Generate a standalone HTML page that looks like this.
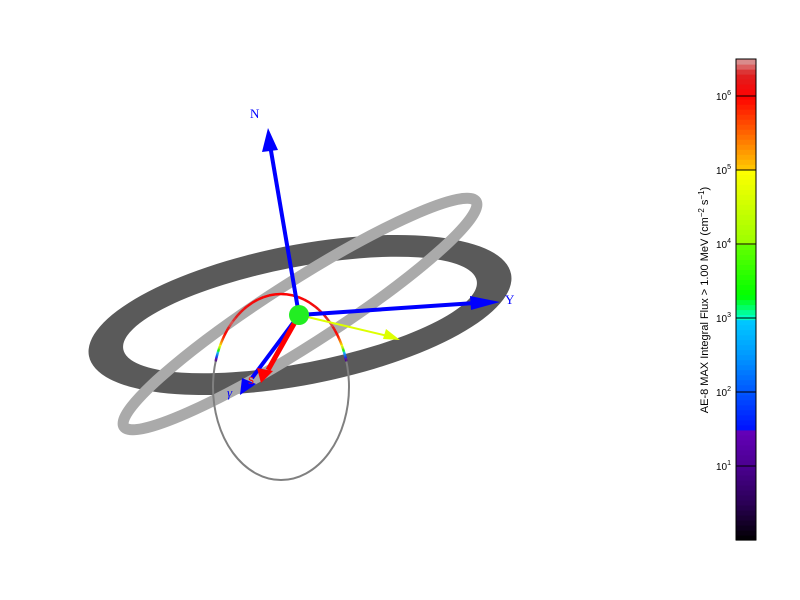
<!DOCTYPE html>
<html><head><meta charset="utf-8"><style>
html,body{margin:0;padding:0;background:#fff;}
svg{display:block;font-family:"Liberation Sans",sans-serif;}
</style></head><body>
<svg id="chart" width="800" height="600" viewBox="0 0 800 600">
<g id="scene">
  <path fill="#5a5a5a" fill-rule="evenodd" transform="translate(300,315) rotate(-11)"
    d="M-215,0 A215,70 0 1,0 215,0 A215,70 0 1,0 -215,0 Z M-180,0 A180,48 0 1,0 180,0 A180,48 0 1,0 -180,0 Z"/>
  <ellipse cx="0" cy="0" rx="209" ry="32" fill="none" stroke="#aaaaaa" stroke-width="11" transform="translate(300,314) rotate(-32.6)"/>
  <ellipse cx="281" cy="387" rx="68" ry="93" fill="none" stroke="#808080" stroke-width="2"/>
  <g id="fluxArc"></g>
  <line x1="299" y1="315" x2="392" y2="337" stroke="#ddff00" stroke-width="2"/>
  <polygon points="400,340 383,339 386,329" fill="#ddff00"/>
  <line x1="299" y1="315" x2="270" y2="145" stroke="#0000ff" stroke-width="4"/>
  <polygon points="268,128 262,152 278,150" fill="#0000ff"/>
  <text x="250" y="118" font-family="Liberation Serif" font-size="13" fill="#0000ff">N</text>
  <line x1="299" y1="315" x2="475" y2="303" stroke="#0000ff" stroke-width="4"/>
  <polygon points="500,302 470,296 471,310" fill="#0000ff"/>
  <text x="505" y="304" font-family="Liberation Serif" font-size="13" fill="#0000ff">Y</text>
  <line x1="299" y1="315" x2="252" y2="378" stroke="#0000ff" stroke-width="4"/>
  <polygon points="240,395 242,378 256,384" fill="#0000ff"/>
  <text x="227" y="397" font-family="Liberation Serif" font-style="italic" font-size="13" fill="#0000ff">γ</text>
  <line x1="299" y1="315" x2="268" y2="370" stroke="#ff0000" stroke-width="5"/>
  <polygon points="261,383 257,368 273,371" fill="#ff0000"/>
  <text x="248" y="384" font-family="Liberation Serif" font-size="11" fill="#ff0000">S</text>
  <circle cx="299" cy="315" r="10" fill="#22ee22"/>
</g>
<g id="cbar"></g>
<text transform="translate(708,300) rotate(-90)" text-anchor="middle" font-size="11" fill="#000">AE-8 MAX Integral Flux &gt; 1.00 MeV (cm<tspan font-size="8" dy="-4">−2</tspan><tspan dy="4"> s</tspan><tspan font-size="8" dy="-4">−1</tspan><tspan dy="4">)</tspan></text>
</svg>
<script>
var cbExponents = [1,2,3,4,5,6];
var cbStopsLog = [0,0.5,1,1.5,1.5,2,2.5,3,3,3.3,4,4,5,5,5.5,6,6.3,6.5];
var cbStopsColor = ["#000000","#2a0055","#4a0090","#6600bb","#0011ff","#0055ff","#0099ff","#00ccff","#00ffcc","#00ff00","#66ff00","#99ff00","#ffff00","#ffcc00","#ff6600","#ff0000","#dd2222","#d8a0a0"];
var orbitAngles = [-74,-72,-70,-68,-66,-64,-58,-48,-30,0,30,48,58,64,66,68,70,72,74];
var orbitFlux   = [0.8,1.5,2.2,3.0,3.8,4.8,5.8,6.4,6.1,6.0,6.1,6.4,5.8,4.8,3.8,3.0,2.2,1.5,0.8];
var NS="http://www.w3.org/2000/svg";
var cbTop=59, cbBot=540, cbMin=0, cbMax=6.5, cbX=736, cbW=20;
function yOf(v){return cbBot-(v-cbMin)/(cbMax-cbMin)*(cbBot-cbTop);}
function hexPart(c,i){return parseInt(c.substr(1+2*i,2),16);}
function mix(c1,c2,t){
  var r=[];
  for(var i=0;i<3;i++){r.push(Math.round(hexPart(c1,i)*(1-t)+hexPart(c2,i)*t));}
  return "rgb("+r.join(",")+")";
}
function colorAt(v){
  for(var i=0;i<cbStopsLog.length-1;i++){
    if(v>=cbStopsLog[i]&&v<=cbStopsLog[i+1]){
      var a=cbStopsLog[i],b=cbStopsLog[i+1],t=b>a?(v-a)/(b-a):0;
      return mix(cbStopsColor[i],cbStopsColor[i+1],t);
    }
  }
  return v<cbStopsLog[0]?cbStopsColor[0]:cbStopsColor[cbStopsColor.length-1];
}
var cb=document.getElementById("cbar");
var steps=96;
for(var k=0;k<steps;k++){
  var v0=cbMin+(cbMax-cbMin)*k/steps, v1=cbMin+(cbMax-cbMin)*(k+1)/steps;
  var r=document.createElementNS(NS,"rect");
  r.setAttribute("x",cbX);r.setAttribute("y",yOf(v1));r.setAttribute("width",cbW);
  r.setAttribute("height",yOf(v0)-yOf(v1)+0.6);r.setAttribute("fill",colorAt((v0+v1)/2));
  
  
  cb.appendChild(r);
}
var fr=document.createElementNS(NS,"rect");
fr.setAttribute("x",cbX);fr.setAttribute("y",cbTop);fr.setAttribute("width",cbW);fr.setAttribute("height",cbBot-cbTop);
fr.setAttribute("fill","none");fr.setAttribute("stroke","#000");


cb.appendChild(fr);
for(var q=0;q<cbExponents.length;q++){
  var e=cbExponents[q];
  var y=yOf(e);
  var l=document.createElementNS(NS,"line");
  l.setAttribute("x1",cbX);l.setAttribute("x2",cbX+cbW);l.setAttribute("y1",y);l.setAttribute("y2",y);
  l.setAttribute("stroke","#000");
  
  
  cb.appendChild(l);
  var t=document.createElementNS(NS,"text");
  t.setAttribute("x",cbX-5);t.setAttribute("y",y+4);t.setAttribute("text-anchor","end");
  t.setAttribute("font-size","10");
  t.appendChild(document.createTextNode("10"));
  var sp=document.createElementNS(NS,"tspan");
  sp.setAttribute("font-size","7");sp.setAttribute("dy","-5");
  sp.appendChild(document.createTextNode(String(e)));
  t.appendChild(sp);
  
  
  cb.appendChild(t);
}
var fa=document.getElementById("fluxArc");
var ocx=281,ocy=387,orx=68,ory=93;
function pt(a){var rr=a*Math.PI/180;return [ocx+orx*Math.sin(rr),ocy-ory*Math.cos(rr)];}
for(var i=0;i<orbitAngles.length-1;i++){
  var n=6;
  for(var j=0;j<n;j++){
    var a0=orbitAngles[i]+(orbitAngles[i+1]-orbitAngles[i])*j/n;
    var a1=orbitAngles[i]+(orbitAngles[i+1]-orbitAngles[i])*(j+1)/n;
    var f=orbitFlux[i]+(orbitFlux[i+1]-orbitFlux[i])*(j+0.5)/n;
    var p0=pt(a0),p1=pt(a1);
    var s=document.createElementNS(NS,"line");
    s.setAttribute("x1",p0[0]);s.setAttribute("y1",p0[1]);s.setAttribute("x2",p1[0]);s.setAttribute("y2",p1[1]);
    s.setAttribute("stroke",colorAt(f));s.setAttribute("stroke-width","2.5");
    
    
    fa.appendChild(s);
  }
}
</script>
</body></html>
